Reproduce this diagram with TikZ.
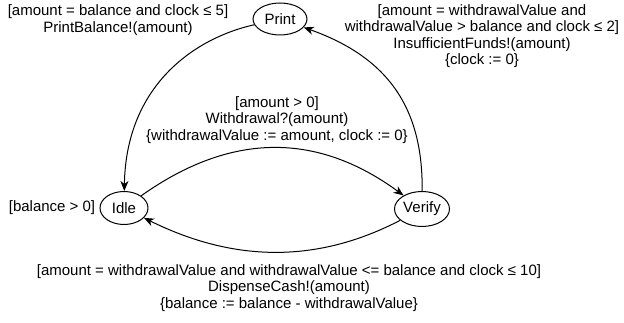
\documentclass[tikz,border=0pt]{standalone}
\usepackage{fontspec}
\setmainfont{Liberation Sans}
\usetikzlibrary{shapes.geometric,arrows.meta}
\tikzset{
  statenode/.style={ellipse, draw, line width=1pt, inner sep=0pt, fill=white},
  conn/.style={draw, line width=1pt, -{Stealth[length=10pt,width=8pt,inset=3pt]}},
  lbl/.style={align=center, inner sep=0pt}
}
\begin{document}
\begin{tikzpicture}[x=1pt,y=-1pt,font=\fontsize{15}{16.5}\selectfont]
\useasboundingbox (0,0) rectangle (624,323);
\node[statenode, minimum width=54pt, minimum height=32pt] (Print) at (280,19) {Print};
\node[statenode, minimum width=48pt, minimum height=33pt] (Idle) at (124,208) {Idle};
\node[statenode, minimum width=55pt, minimum height=35pt] (Verify) at (422,209) {Verify};

\draw[conn] (Print) .. controls (195,38) and (126,85) .. (Idle);
\draw[conn] (Verify) .. controls (423,110) and (390,58) .. (Print);
\draw[conn] (Idle) .. controls (231,132) and (317,132) .. (Verify);
\draw[conn] (Verify) .. controls (318,263) and (235,263) .. (Idle);

\node[lbl] (lPI) at (118,20) {[amount = balance and clock ≤ 5]\\PrintBalance!(amount)};
\node[lbl] (lVP) at (482,36) {[amount = withdrawalValue and\\withdrawalValue > balance and clock ≤ 2]\\InsufficientFunds!(amount)\\\{clock := 0\}};
\node[lbl] (lIV) at (277,120) {[amount > 0]\\Withdrawal?(amount)\\\{withdrawalValue := amount, clock := 0\}};
\node[lbl] (lVI) at (289,288) {[amount = withdrawalValue and withdrawalValue <= balance and clock ≤ 10]\\DispenseCash!(amount)\\\{balance := balance - withdrawalValue\}};
\node[lbl] (lInv) at (52,208) {[balance > 0]};
\end{tikzpicture}
\end{document}
